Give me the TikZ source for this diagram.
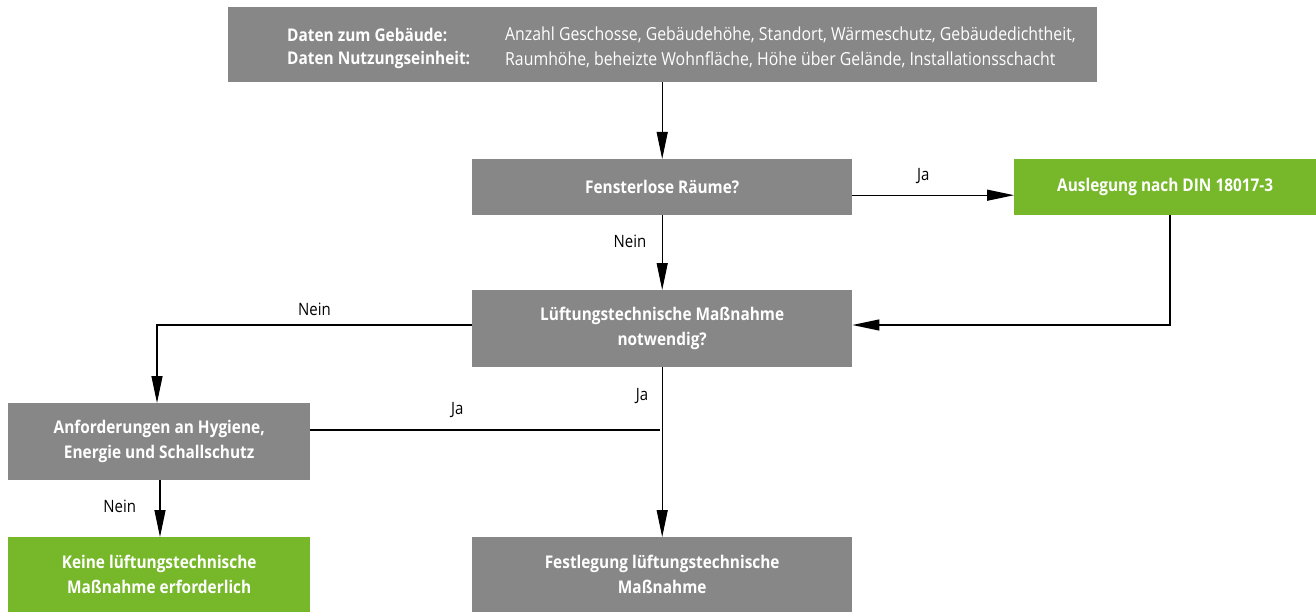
\documentclass[tikz,border=0pt]{standalone}
\usepackage{fontspec}
\setmainfont[FakeStretch=0.88]{Open Sans}
\usetikzlibrary{arrows.meta}
\definecolor{boxgray}{HTML}{878787}
\definecolor{boxgreen}{HTML}{76B82A}
\tikzset{
  box/.style={fill=boxgray, text=white, font=\fontsize{17.5}{25}\selectfont\bfseries, align=center, inner sep=0pt, anchor=north west},
  gbox/.style={box, fill=boxgreen},
  conn/.style={line width=1.2pt, draw=black},
  arr/.style={conn, -{Triangle[length=27pt,width=11pt]}},
  lbl/.style={font=\fontsize{17}{18}\selectfont, text=black},
  toptxt/.style={text=white, font=\fontsize{18}{25}\selectfont, anchor=west, inner sep=0pt},
}
\begin{document}
\begin{tikzpicture}[x=1pt,y=-1pt]
\useasboundingbox (0,0) rectangle (1316,612);
% boxes
\node[box, minimum width=869pt, minimum height=75pt] (top) at (228,7) {};
\node[toptxt, font=\fontsize{17.5}{25}\selectfont\bfseries] (l1) at (287,35) {Daten zum Gebäude:};
\node[toptxt, font=\fontsize{17.5}{25}\selectfont\bfseries] (l2) at (287,60) {Daten Nutzungseinheit:};
\node[toptxt] (v1) at (505,35) {Anzahl Geschosse, Gebäudehöhe, Standort, Wärmeschutz, Gebäudedichtheit,};
\node[toptxt] (v2) at (505,60) {Raumhöhe, beheizte Wohnfläche, Höhe über Gelände, Installationsschacht};

\node[box, minimum width=380pt, minimum height=56pt] (fen) at (472,159) {Fensterlose Räume?};
\node[gbox, minimum width=302pt, minimum height=56pt] (aus) at (1014,159) {Auslegung nach DIN 18017-3};
\node[box, minimum width=380pt, minimum height=77pt] (lue) at (472,290) {Lüftungstechnische Maßnahme\\notwendig?};
\node[box, minimum width=302pt, minimum height=77pt] (anf) at (8,403) {Anforderungen an Hygiene,\\Energie und Schallschutz};
\node[gbox, minimum width=302pt, minimum height=75pt] (kei) at (8,537) {Keine lüftungstechnische\\Maßnahme erforderlich};
\node[box, minimum width=380pt, minimum height=75pt] (fes) at (472,537) {Festlegung lüftungstechnische\\Maßnahme};

% connectors
\draw[arr] (top.south -| fen.north) -- (fen.north);
\draw[arr] ([yshift=-8pt]fen.east) -- ([yshift=-8pt]fen.east -| aus.west) node[lbl, midway, above=8pt, xshift=-10pt] {Ja};
\draw[arr] (fen.south) -- (lue.north) node[lbl, pos=0.35, left=12pt] {Nein};
\coordinate (ac) at (1170,325);
\draw[arr] (aus.south -| ac) -- (ac) -- (ac -| lue.east);
\coordinate (nc) at (157,325);
\draw[arr] (lue.west |- nc) -- (nc) node[lbl, pos=0.5, above=5pt] {Nein} -- (nc |- anf.north);
\draw[arr] (lue.south) -- (fes.north) node[lbl, pos=0.17, left=10pt] {Ja};
\coordinate (jc) at (660,430);
\draw[conn] (anf.east |- jc) -- (jc) node[lbl, pos=0.42, above=8pt] {Ja};
\draw[arr] (anf.south -| 160,0) -- (kei.north -| 160,0) node[lbl, pos=0.45, left=20pt] {Nein};
\end{tikzpicture}
\end{document}
